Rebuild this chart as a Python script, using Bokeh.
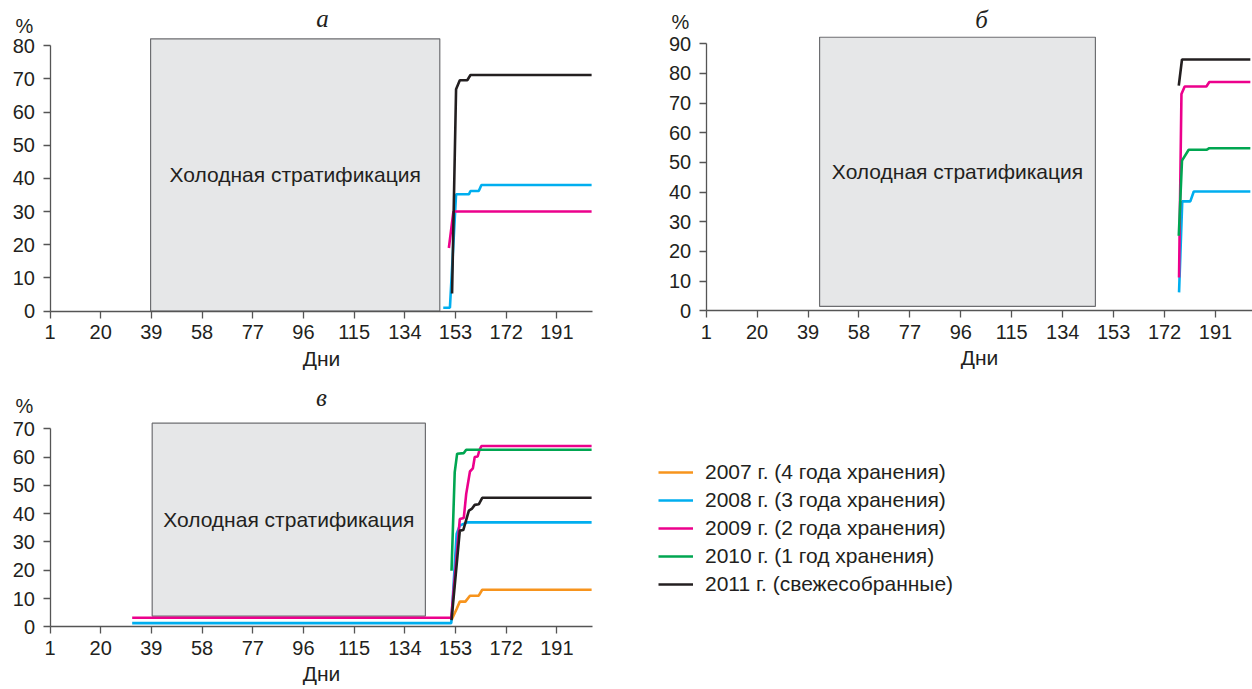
from bokeh.plotting import figure
from bokeh.layouts import column, row
from bokeh.models import FixedTicker, Label, Legend, LegendItem, Range1d
from bokeh.embed import file_html
from bokeh.resources import INLINE
from bokeh.core.properties import value

FONT = "Liberation Sans"
SERIF = "Liberation Serif"
TXT = "#231f20"
AXC = "#555555"

# ---------------- data ----------------
x_ticks = [1, 20, 39, 58, 77, 96, 115, 134, 153, 172, 191]
series_labels = ["2007 г. (4 года хранения)", "2008 г. (3 года хранения)",
                 "2009 г. (2 года хранения)", "2010 г. (1 год хранения)",
                 "2011 г. (свежесобранные)"]
series_colors = ["#f7941d", "#00aeef", "#ec008c", "#00a651", "#231f20"]
strat_text = "Холодная стратификация"
x_label = "Дни"
y_label = "%"

# panel а
a_y_ticks = [0, 10, 20, 30, 40, 50, 60, 70, 80]
a_strat = [38.7, 147.1, 0.0, 82.1]          # left, right, bottom, top (days / %)
a_2008_day = [148.4, 150.9, 153.2, 158.0, 158.6, 161.7, 162.7, 204.0]
a_2008_val = [1.0, 1.0, 35.2, 35.2, 36.2, 36.2, 38.0, 38.0]
a_2009_day = [150.5, 152.2, 204.0]
a_2009_val = [19.0, 30.0, 30.0]
a_2011_day = [151.7, 153.2, 154.6, 157.4, 158.6, 204.0]
a_2011_val = [5.3, 66.9, 69.6, 69.6, 71.2, 71.2]

# panel б
b_y_ticks = [0, 10, 20, 30, 40, 50, 60, 70, 80, 90]
b_strat = [43.3, 146.2, 1.5, 92.2]
b_2008_day = [177.4, 178.6, 181.6, 182.9, 204.0]
b_2008_val = [6.2, 36.9, 36.9, 40.2, 40.2]
b_2009_day = [177.4, 178.3, 179.5, 187.6, 188.7, 204.0]
b_2009_val = [11.2, 73.1, 75.6, 75.6, 77.1, 77.1]
b_2010_day = [177.3, 178.5, 181.0, 187.8, 188.7, 204.0]
b_2010_val = [25.3, 50.6, 54.3, 54.3, 54.8, 54.8]
b_2011_day = [177.3, 178.5, 204.0]
b_2011_val = [75.9, 84.7, 84.7]

# panel в
c_y_ticks = [0, 10, 20, 30, 40, 50, 60, 70]
c_strat = [39.3, 141.7, 3.8, 72.0]
c_2007_day = [151.5, 153.4, 154.6, 156.7, 158.4, 161.7, 163.0, 204.0]
c_2007_val = [2.4, 6.3, 8.9, 8.9, 11.0, 11.0, 13.1, 13.1]
c_2008_day = [31.8, 151.4, 153.4, 154.6, 157.4, 204.0]
c_2008_val = [1.3, 1.3, 32.8, 35.8, 36.9, 36.9]
c_2009_day = [31.8, 151.4, 154.6, 156.1, 157.0, 158.4, 159.5, 160.2, 161.3, 162.0, 162.7, 204.0]
c_2009_val = [3.2, 3.2, 38.1, 38.5, 47.0, 54.9, 56.0, 60.0, 60.2, 62.6, 63.9, 63.9]
c_2010_day = [151.5, 152.7, 153.6, 156.1, 157.0, 204.0]
c_2010_val = [19.8, 54.7, 61.2, 61.4, 62.6, 62.6]
c_2011_day = [151.5, 154.6, 155.9, 158.0, 159.2, 160.2, 161.7, 163.0, 204.0]
c_2011_val = [2.4, 34.0, 34.2, 41.1, 41.8, 43.1, 43.3, 45.6, 45.6]


# ---------------- layout helper (pixel geometry) ----------------
def make_panel(width, height, x_origin_px, x_ppu, y_origin_px, y_ppu, x_axis_end,
               y_ticks, strat, title, title_px, pct_px, lines):
    # the frame covers the whole canvas; axes are pinned at day 1 / 0 %
    x0 = 1 - x_origin_px / x_ppu
    x1 = 1 + (width - x_origin_px) / x_ppu
    y0 = -(height - y_origin_px) / y_ppu
    y1 = y_origin_px / y_ppu
    p = figure(width=width, height=height, x_range=Range1d(x0, x1),
               y_range=Range1d(y0, y1), toolbar_location=None,
               output_backend="svg", min_border=0)
    p.grid.visible = False
    p.outline_line_color = None
    p.background_fill_color = "white"
    p.border_fill_color = "white"

    left, right, bottom, top = strat
    p.quad(left=[left], right=[right], bottom=[bottom], top=[top],
           fill_color="#e6e7e8", line_color="#6d6e71", line_width=1.2)
    p.text(x=[(left + right) / 2], y=[(bottom + top) / 2], text=[strat_text],
           text_align="center", text_baseline="middle",
           text_font=value(FONT), text_font_size="21px", text_color=TXT)

    renderers = {}
    for idx, days, vals in lines:
        renderers[idx] = p.line(days, vals, line_color=series_colors[idx],
                                line_width=2.6)

    p.xaxis.ticker = FixedTicker(ticks=x_ticks)
    p.yaxis.ticker = FixedTicker(ticks=y_ticks)
    p.xaxis.fixed_location = 0
    p.yaxis.fixed_location = 1
    p.xaxis.bounds = (1, x_axis_end)
    p.yaxis.bounds = (0, y_ticks[-1])
    p.xaxis.axis_label = x_label
    for ax in (p.xaxis[0], p.yaxis[0]):
        ax.axis_line_color = AXC
        ax.axis_line_width = 1.3
        ax.major_tick_line_color = AXC
        ax.major_tick_line_width = 1.3
        ax.major_tick_in = 0
        ax.major_tick_out = 7
        ax.minor_tick_line_color = None
        ax.major_label_text_font = FONT
        ax.major_label_text_font_size = "20px"
        ax.major_label_text_color = TXT
        ax.axis_label_text_font = FONT
        ax.axis_label_text_font_size = "21px"
        ax.axis_label_text_font_style = "normal"
        ax.axis_label_text_color = TXT
    p.xaxis.major_label_standoff = 7
    p.xaxis.axis_label_standoff = 4
    p.yaxis.major_label_standoff = 8

    p.add_layout(Label(x=pct_px[0], y=height - pct_px[1], x_units="screen",
                       y_units="screen", text=y_label, text_align="center",
                       text_baseline="middle", text_font=FONT,
                       text_font_size="20px", text_color=TXT))
    p.add_layout(Label(x=title_px[0], y=height - title_px[1], x_units="screen",
                       y_units="screen", text=title, text_align="center",
                       text_baseline="middle", text_font=SERIF,
                       text_font_style="italic", text_font_size="25px",
                       text_color=TXT))
    return p, renderers


pa, _ = make_panel(640, 380, 49.5, 2.668, 310.5, 3.315, 204.5, a_y_ticks, a_strat,
                   "а", (322, 18.3), (24, 25.0),
                   [(1, a_2008_day, a_2008_val), (2, a_2009_day, a_2009_val),
                    (4, a_2011_day, a_2011_val)])
pb, _ = make_panel(612, 380, 65.7, 2.6805, 310.3, 2.9667, 210.0, b_y_ticks, b_strat,
                   "б", (341, 19.0), (40, 21.0),
                   [(1, b_2008_day, b_2008_val), (2, b_2009_day, b_2009_val),
                    (3, b_2010_day, b_2010_val), (4, b_2011_day, b_2011_val)])
pc, rc = make_panel(1252, 309, 49.5, 2.668, 246.3, 2.8286, 204.5, c_y_ticks, c_strat,
                    "в", (321, 17.3), (24, 25.0),
                    [(0, c_2007_day, c_2007_val), (1, c_2008_day, c_2008_val),
                     (2, c_2009_day, c_2009_val), (3, c_2010_day, c_2010_val),
                     (4, c_2011_day, c_2011_val)])

items = [LegendItem(label=lab, renderers=[rc[i]]) for i, lab in enumerate(series_labels)]
leg = Legend(items=items, location=(658, 93), padding=0, margin=0,
             border_line_alpha=0, background_fill_alpha=0,
             glyph_width=35, glyph_height=24, label_height=24, spacing=4,
             label_standoff=12, label_text_font=FONT, label_text_font_size="21px",
             label_text_color=TXT, label_text_baseline="middle")
pc.add_layout(leg)

layout = column(row(pa, pb), pc)
open("out.html", "w").write(file_html(layout, INLINE))
